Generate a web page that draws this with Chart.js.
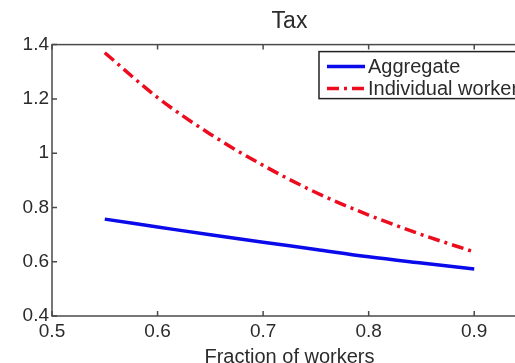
<!DOCTYPE html>
<html>
<head>
<meta charset="utf-8">
<script src="https://cdn.jsdelivr.net/npm/chart.js@4"></script>
<style>
  html, body { margin: 0; padding: 0; background: #fff; overflow: hidden; }
  #quadro { position: relative; width: 600px; height: 372px; }
</style>
</head>
<body>
<div id="quadro"><canvas id="chartTax"></canvas></div>
<script>
// CHART.JS — Imposto x fração de trabalhadores

// Dados
const fracao     = [0.55, 0.6, 0.65, 0.7, 0.75, 0.8, 0.85, 0.9];
const agregado   = [0.757, 0.728, 0.699, 0.672, 0.645, 0.618, 0.595, 0.573];
const individual = [1.37, 1.205, 1.07, 0.955, 0.855, 0.772, 0.70, 0.636];
const ticksX     = [0.5, 0.6, 0.7, 0.8, 0.9];
const ticksY     = [0.4, 0.6, 0.8, 1, 1.2, 1.4];
const nomes      = ['Aggregate', 'Individual workers'];

// Estilo
const FONTE     = "'Liberation Sans', Arial, sans-serif";
const COR_TEXTO = '#2b2b2b';
const COR_EIXO  = '#4a4a4a';
const AZUL      = 'rgb(10,10,235)';
const VERMELHO  = 'rgb(236,12,30)';
const TRACO_PONTO = [12, 5, 3, 5];

const pares = serie => fracao.map((f, i) => ({ x: f, y: serie[i] }));

// Moldura com marcas para dentro (estilo Matlab)
const moldura = {
  id: 'moldura',
  afterDatasetsDraw(chart) {
    const { ctx, chartArea: a, scales: { x, y } } = chart;
    ctx.save();
    ctx.strokeStyle = COR_EIXO;
    ctx.lineWidth = 1.5;
    ctx.strokeRect(a.left, a.top, a.right - a.left, a.bottom - a.top);
    ctx.beginPath();
    x.ticks.forEach(t => {
      const px = x.getPixelForValue(t.value);
      ctx.moveTo(px, a.bottom); ctx.lineTo(px, a.bottom - 5);
      ctx.moveTo(px, a.top);    ctx.lineTo(px, a.top + 5);
    });
    y.ticks.forEach(t => {
      const py = y.getPixelForValue(t.value);
      ctx.moveTo(a.left, py);  ctx.lineTo(a.left + 5, py);
      ctx.moveTo(a.right, py); ctx.lineTo(a.right - 5, py);
    });
    ctx.stroke();
    ctx.restore();
  }
};

// Legenda dentro da área do gráfico
const legenda = {
  id: 'legenda',
  afterDraw(chart) {
    const { ctx, chartArea: a } = chart;
    const esq = a.left + 267, topo = a.top + 7;
    ctx.save();
    ctx.fillStyle = '#fff';
    ctx.fillRect(esq, topo, 280, 47);
    ctx.strokeStyle = '#222';
    ctx.lineWidth = 1.5;
    ctx.strokeRect(esq, topo, 280, 47);
    ctx.font = '20px ' + FONTE;
    ctx.textBaseline = 'middle';
    chart.data.datasets.forEach((ds, i) => {
      const yl = topo + 15 + i * 22;
      ctx.strokeStyle = ds.borderColor;
      ctx.lineWidth = ds.borderWidth;
      ctx.setLineDash(ds.borderDash || []);
      ctx.beginPath();
      ctx.moveTo(esq + 8, yl);
      ctx.lineTo(esq + 46, yl);
      ctx.stroke();
      ctx.setLineDash([]);
      ctx.fillStyle = COR_TEXTO;
      ctx.fillText(ds.label, esq + 49, yl + 1);
    });
    ctx.restore();
  }
};

const contextoTax = document.getElementById('chartTax').getContext('2d');

const graficoTax = new Chart(contextoTax, {
  type: 'line',
  data: { datasets: [
    {
      label: nomes[0],
      data: pares(agregado),
      borderColor: AZUL,
      borderWidth: 3.5,
      pointRadius: 0,
      cubicInterpolationMode: 'monotone',
      fill: false
    },
    {
      label: nomes[1],
      data: pares(individual),
      borderColor: VERMELHO,
      borderWidth: 3.5,
      borderDash: TRACO_PONTO,
      pointRadius: 0,
      cubicInterpolationMode: 'monotone',
      fill: false
    }
  ]},
  options: {
    responsive: true,
    maintainAspectRatio: false,
    animation: false,
    layout: { padding: { left: 0, right: 73, top: 0, bottom: 0 } },
    plugins: {
      legend: { display: false },
      tooltip: { enabled: false },
      title: {
        display: true, text: 'Tax', fullSize: false, color: COR_TEXTO,
        font: { size: 23, family: FONTE, weight: 'normal' },
        padding: { top: 8, bottom: 9 }
      }
    },
    scales: {
      x: {
        type: 'linear', min: 0.5, max: 0.95,
        afterBuildTicks: eixo => { eixo.ticks = ticksX.map(v => ({ value: v })); },
        afterFit: eixo => { eixo.height = 56; },
        grid: { display: false, drawTicks: false },
        border: { display: false },
        ticks: { color: COR_TEXTO, font: { size: 19, family: FONTE }, padding: 4, maxRotation: 0, autoSkip: false, callback: v => String(v) },
        title: { display: true, text: 'Fraction of workers', color: COR_TEXTO, font: { size: 20, family: FONTE }, padding: { top: 0, bottom: 3 } }
      },
      y: {
        min: 0.4, max: 1.4,
        afterBuildTicks: eixo => { eixo.ticks = ticksY.map(v => ({ value: v })); },
        afterFit: eixo => { eixo.width = 52; },
        grid: { display: false, drawTicks: false },
        border: { display: false },
        ticks: { color: COR_TEXTO, font: { size: 19, family: FONTE }, padding: 3, callback: v => String(+v.toFixed(2)) }
      }
    }
  },
  plugins: [moldura, legenda]
});
</script>
</body>
</html>
